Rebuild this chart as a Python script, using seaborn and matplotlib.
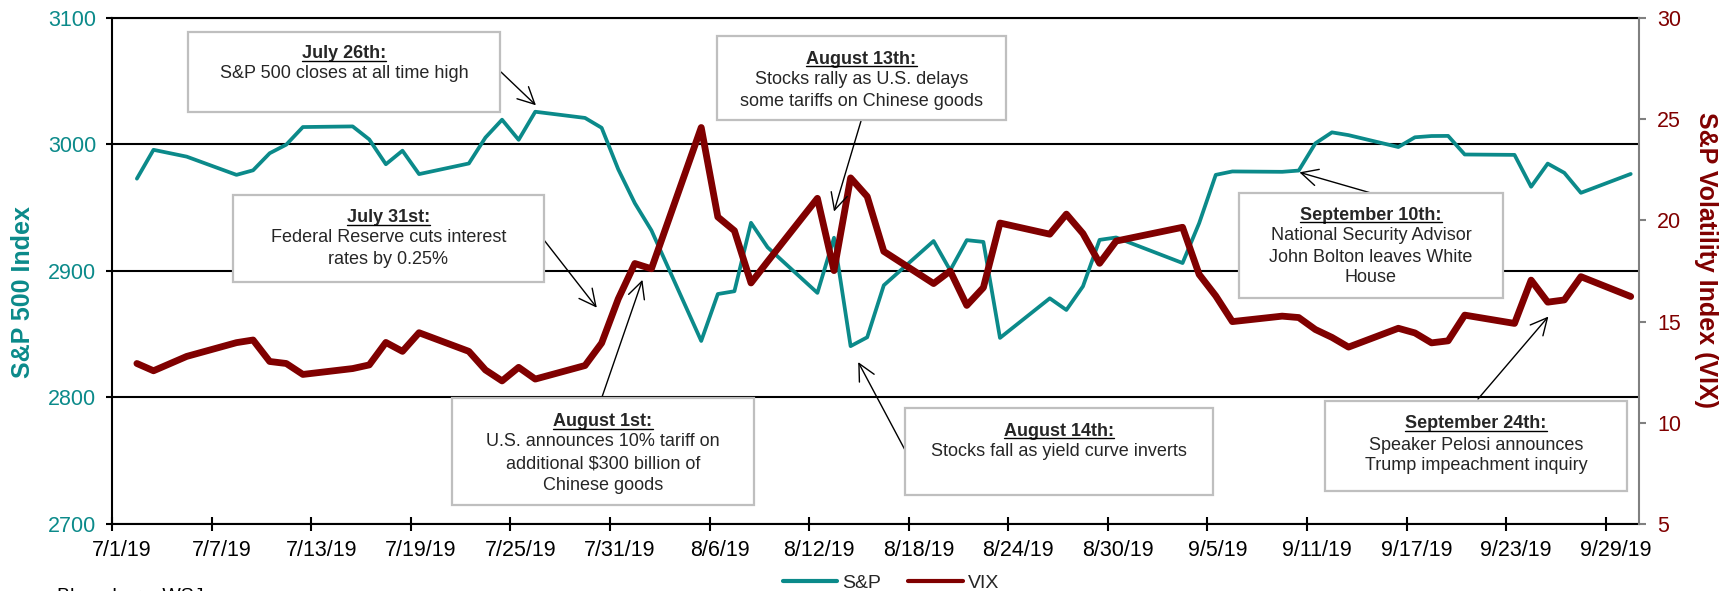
import numpy as np
import pandas as pd
import matplotlib
matplotlib.use("Agg")
import matplotlib.pyplot as plt
import seaborn as sns
from matplotlib.transforms import ScaledTranslation
from matplotlib.patches import Rectangle
from matplotlib.lines import Line2D

# ---------------- data ----------------
dates = [
    "2019-07-02", "2019-07-03", "2019-07-05", "2019-07-08", "2019-07-09", "2019-07-10", "2019-07-11",
    "2019-07-12", "2019-07-15", "2019-07-16", "2019-07-17", "2019-07-18", "2019-07-19", "2019-07-22",
    "2019-07-23", "2019-07-24", "2019-07-25", "2019-07-26", "2019-07-29", "2019-07-30", "2019-07-31",
    "2019-08-01", "2019-08-02", "2019-08-05", "2019-08-06", "2019-08-07", "2019-08-08", "2019-08-09",
    "2019-08-12", "2019-08-13", "2019-08-14", "2019-08-15", "2019-08-16", "2019-08-19", "2019-08-20",
    "2019-08-21", "2019-08-22", "2019-08-23", "2019-08-26", "2019-08-27", "2019-08-28", "2019-08-29",
    "2019-08-30", "2019-09-03", "2019-09-04", "2019-09-05", "2019-09-06", "2019-09-09", "2019-09-10",
    "2019-09-11", "2019-09-12", "2019-09-13", "2019-09-16", "2019-09-17", "2019-09-18", "2019-09-19",
    "2019-09-20", "2019-09-23", "2019-09-24", "2019-09-25", "2019-09-26", "2019-09-27", "2019-09-30",
]
sp500 = [
    2973.0, 2995.8, 2990.4, 2976.0, 2979.6, 2993.1, 2999.9, 3013.8, 3014.3, 3004.0, 2984.4, 2995.1,
    2976.6, 2985.0, 3005.5, 3019.6, 3003.7, 3025.9, 3021.0, 3013.2, 2980.4,
    2953.6, 2932.1, 2844.7, 2881.8, 2884.0, 2938.1, 2918.7, 2882.7, 2926.3, 2840.6, 2847.6, 2888.7,
    2923.7, 2900.5, 2924.4, 2923.0, 2847.1, 2878.4, 2869.2, 2887.9, 2924.6, 2926.5,
    2906.3, 2937.8, 2976.0, 2978.7, 2978.4, 2979.4, 3000.9, 3009.6, 3007.4, 2998.0, 3005.7, 3006.7,
    3006.8, 2992.1, 2991.8, 2966.6, 2984.9, 2977.6, 2961.8, 2976.7,
]
vix = [
    12.93, 12.57, 13.28, 13.96, 14.09, 13.03, 12.93, 12.39, 12.68, 12.86, 13.97, 13.53, 14.45, 13.53,
    12.61, 12.07, 12.74, 12.16, 12.83, 13.94, 16.12,
    17.87, 17.61, 24.59, 20.17, 19.49, 16.91, 17.97, 21.09, 17.52, 22.10, 21.18, 18.47, 16.88, 17.50,
    15.80, 16.68, 19.87, 19.32, 20.31, 19.35, 17.88, 18.98,
    19.66, 17.33, 16.27, 15.00, 15.27, 15.20, 14.61, 14.22, 13.74, 14.67, 14.44, 13.95, 14.05, 15.32,
    14.91, 17.05, 15.96, 16.07, 17.22, 16.24,
]
xtick_dates = ["2019-07-01", "2019-07-07", "2019-07-13", "2019-07-19", "2019-07-25", "2019-07-31",
               "2019-08-06", "2019-08-12", "2019-08-18", "2019-08-24", "2019-08-30", "2019-09-05",
               "2019-09-11", "2019-09-17", "2019-09-23", "2019-09-29"]
xtick_labels = ["7/1/19", "7/7/19", "7/13/19", "7/19/19", "7/25/19", "7/31/19", "8/6/19", "8/12/19",
                "8/18/19", "8/24/19", "8/30/19", "9/5/19", "9/11/19", "9/17/19", "9/23/19", "9/29/19"]
sp_ticks = [2700, 2800, 2900, 3000, 3100]
vix_ticks = [5, 10, 15, 20, 25, 30]
series_names = ["S&P", "VIX"]

TEAL = "#0B8A8A"
RED = "#800000"

sns.set_theme(style="white")
plt.rcParams["font.family"] = ["Liberation Sans", "DejaVu Sans"]

W, H = 1722, 591
fig = plt.figure(figsize=(W / 100, H / 100), dpi=100)
L, R, T, B = 112, 1639, 18, 524
ax = fig.add_axes([L / W, 1 - B / H, (R - L) / W, (B - T) / H])
ax2 = ax.twinx()

def fx(x):
    return x / W

def fy(y):
    return 1 - y / H

df = pd.DataFrame({
    "date": pd.to_datetime(dates) + pd.Timedelta(hours=12),
    "sp": sp500,
    "vix": vix,
})
sns.lineplot(data=df, x="date", y="sp", ax=ax, color=TEAL, lw=2.7, zorder=5)
sns.lineplot(data=df, x="date", y="vix", ax=ax2, color=RED, lw=4.9, zorder=5)

# axes limits / ticks
ax.set_xlim(pd.Timestamp("2019-07-01"), pd.Timestamp("2019-10-01"))
ax.set_ylim(sp_ticks[0], sp_ticks[-1])
ax2.set_ylim(vix_ticks[0], vix_ticks[-1])
ax.set_yticks(sp_ticks)
ax2.set_yticks(vix_ticks)
ax.set_xticks(pd.to_datetime(xtick_dates))
ax.set_xticklabels(xtick_labels)
ax.set_xlabel("")

ax.grid(False)
ax2.grid(False)
ax.yaxis.grid(True, color="black", lw=1.5)
ax.set_axisbelow(True)

for s in ["left", "bottom", "top"]:
    ax.spines[s].set_visible(True)
    ax.spines[s].set_color("black")
    ax.spines[s].set_linewidth(1.5)
ax.spines["right"].set_visible(False)
for s in ["left", "bottom", "top"]:
    ax2.spines[s].set_visible(False)
ax2.spines["right"].set_visible(True)
ax2.spines["right"].set_color("#808080")
ax2.spines["right"].set_linewidth(1.5)

ax.tick_params(axis="y", which="major", left=True, right=False, direction="out", length=4.3,
               width=1.5, color="black", labelsize=15.5, labelcolor=TEAL, pad=7)
ax.tick_params(axis="x", which="major", bottom=True, top=False, direction="inout", length=9.5,
               width=1.5, color="black", labelsize=15.5, labelcolor="black", pad=7)
ax2.tick_params(axis="y", which="major", right=True, left=False, direction="out", length=5,
                width=1.5, color="#808080", labelsize=15.5, labelcolor=RED, pad=8)

offset = ScaledTranslation(0.10, 0, fig.dpi_scale_trans)
for lab in ax.get_xticklabels():
    lab.set_transform(lab.get_transform() + offset)

ax.set_ylabel("S&P 500 Index", fontsize=18, fontweight="bold", color=TEAL, va="center", ha="center")
ax.yaxis.set_label_coords((22.5 - L) / (R - L), (B - 292) / (B - T))
ax2.set_ylabel("S&P Volatility Index (VIX)", fontsize=18, fontweight="bold", color=RED,
               rotation=270, va="center", ha="center")
ax2.yaxis.set_label_coords((1706 - L) / (R - L), (B - 260) / (B - T))

# legend
handles = [Line2D([], [], color=TEAL, lw=3), Line2D([], [], color=RED, lw=3)]
fig.legend(handles=handles, labels=series_names, loc="center", bbox_to_anchor=(fx(891), fy(583)),
           ncol=2, frameon=False, fontsize=14, handlelength=2.8, handletextpad=0.25,
           columnspacing=1.4, borderaxespad=0, borderpad=0)

# source note (cut off at the bottom edge, as in the original)
fig.text(fx(57), fy(588), "Bloomberg, WSJ", fontsize=14, va="top", ha="left", color="black")

# annotation boxes: (x0, y0, x1, y1), title y, body ys, title, body lines
boxes = [
    ((188, 32, 500, 112), 52, [72], "July 26th:", ["S&P 500 closes at all time high"]),
    ((233, 195, 544, 282), 216, [236, 258], "July 31st:",
     ["Federal Reserve cuts interest", "rates by 0.25%"]),
    ((717, 36, 1006, 120), 57, [77, 99], "August 13th:",
     ["Stocks rally as U.S. delays", "some tariffs on Chinese goods"]),
    ((452, 398, 754, 505), 420, [440, 462, 483], "August 1st:",
     ["U.S. announces 10% tariff on", "additional \\$300 billion of", "Chinese goods"]),
    ((905, 408, 1213, 495), 429, [449], "August 14th:", ["Stocks fall as yield curve inverts"]),
    ((1239, 193, 1503, 298), 213, [234, 256, 276], "September 10th:",
     ["National Security Advisor", "John Bolton leaves White", "House"]),
    ((1325, 401, 1627, 491), 422, [443, 463], "September 24th:",
     ["Speaker Pelosi announces", "Trump impeachment inquiry"]),
]
title_texts = []
for (x0, y0, x1, y1), ty, bys, title, body in boxes:
    rect = Rectangle((fx(x0), fy(y1)), (x1 - x0) / W, (y1 - y0) / H, transform=fig.transFigure,
                     facecolor="white", edgecolor="#BFBFBF", lw=1.6, zorder=10)
    fig.add_artist(rect)
    cx = (x0 + x1) / 2
    t = fig.text(fx(cx), fy(ty + 6.5), title, ha="center", va="baseline", fontsize=13,
                 fontweight="bold", zorder=11)
    title_texts.append((t, ty + 6.5))
    for by, line in zip(bys, body):
        fig.text(fx(cx), fy(by + 6.5), line, ha="center", va="baseline", fontsize=13, zorder=11)

# arrows: tail (figure px), tip (date, S&P-axis value)
arrows = [
    ((501, 72), ("2019-07-26 13:00", 3031)),
    ((544, 240), ("2019-07-30 05:00", 2871)),
    ((861, 121), ("2019-08-13 12:00", 2947)),
    ((602, 397), ("2019-08-01 23:00", 2893)),
    ((905, 450), ("2019-08-14 23:00", 2828)),
    ((1371, 193), ("2019-09-10 13:00", 2978)),
    ((1478, 399), ("2019-09-25 13:00", 2864)),
]
for (tx, ty), (d, v) in arrows:
    ax2.annotate("", xy=(matplotlib.dates.date2num(pd.Timestamp(d)), v), xycoords=ax.transData,
                 xytext=(fx(tx), fy(ty)), textcoords="figure fraction",
                 arrowprops=dict(arrowstyle="->,head_length=0.8,head_width=0.4", lw=1.0,
                                 color="black", shrinkA=0, shrinkB=0, mutation_scale=15),
                 annotation_clip=False, zorder=12)

# underline titles
fig.canvas.draw()
for t, base in title_texts:
    bb = t.get_window_extent()
    yline = fy(base + 2.5)
    fig.add_artist(Line2D([bb.x0 / W, bb.x1 / W], [yline, yline], transform=fig.transFigure,
                          color="black", lw=1.0, zorder=12))

fig.savefig("out.png", dpi=100)
